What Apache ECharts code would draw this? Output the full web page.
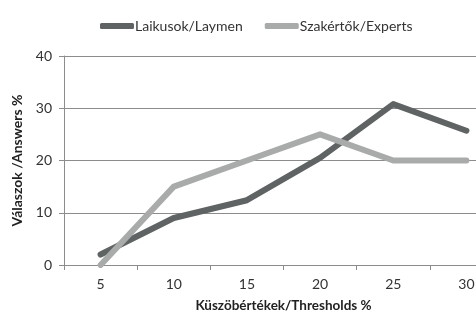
<!DOCTYPE html>
<html>
<head>
<meta charset="utf-8">
<script src="https://cdn.jsdelivr.net/npm/echarts@6/dist/echarts.min.js"></script>
<style>
  html, body { margin: 0; padding: 0; background: #fff; }
  #main { width: 476px; height: 314px; }
</style>
</head>
<body>
<div id="main"></div>
<script>
// küszöbértékek (x)
const thresholds = ['5', '10', '15', '20', '25', '30'];
// laikusok
const laymen = [2, 9, 12.4, 20.5, 30.8, 25.7];
// szakértők
const experts = [0, 15, 20, 25, 20, 20];

const gridColor = '#8c8c8c';
const textColor = '#333';

let chart = echarts.init(document.getElementById('main'), null, { renderer: 'canvas' });

let option = {
        animation: false,
        textStyle: { fontFamily: 'Lato' },
        legend: {
                top: 14,
                left: 95,
                itemWidth: 34,
                itemHeight: 6,
                itemGap: 22,
                icon: 'roundRect',
                textStyle: { color: '#333', fontSize: 14, fontFamily: 'Lato', padding: [0, 0, 0, -4] },
                data: ['Laikusok/Laymen', 'Szakértők/Experts']
        },
        grid: {
                left: 64,
                top: 56,
                bottom: 49,
                width: 439,
                outerBoundsMode: 'none'
        },
        xAxis: {
                type: 'category',
                data: thresholds,
                name: 'Küszöbértékek/Thresholds %',
                nameLocation: 'middle',
                nameGap: 34,
                nameTextStyle: { fontWeight: 'bold', fontSize: 13.5, color: '#222' },
                axisLine: { lineStyle: { color: gridColor } },
                axisTick: { show: true, length: 5, interval: 0, lineStyle: { color: gridColor } },
                axisLabel: { color: textColor, fontSize: 14, margin: 12 }
        },
        yAxis: {
                type: 'value',
                min: 0,
                max: 40,
                interval: 10,
                name: 'Válaszok /Answers %',
                nameLocation: 'middle',
                nameGap: 39,
                nameTextStyle: { fontWeight: 'bold', fontSize: 14, color: '#222' },
                axisLine: { show: true, lineStyle: { color: gridColor } },
                axisTick: { show: true, length: 5, lineStyle: { color: gridColor } },
                splitLine: { lineStyle: { color: gridColor, width: 1 } },
                axisLabel: { color: textColor, fontSize: 14, margin: 12 }
        },
        series: [{
                name: 'Laikusok/Laymen',
                type: 'line',
                data: laymen,
                symbol: 'none',
                color: '#5f6363',
                lineStyle: { width: 6, cap: 'round', join: 'round' }
        }, {
                name: 'Szakértők/Experts',
                type: 'line',
                data: experts,
                symbol: 'none',
                color: '#a9abab',
                lineStyle: { width: 6, cap: 'round', join: 'round' }
        }]
};

chart.setOption(option);
</script>
</body>
</html>
